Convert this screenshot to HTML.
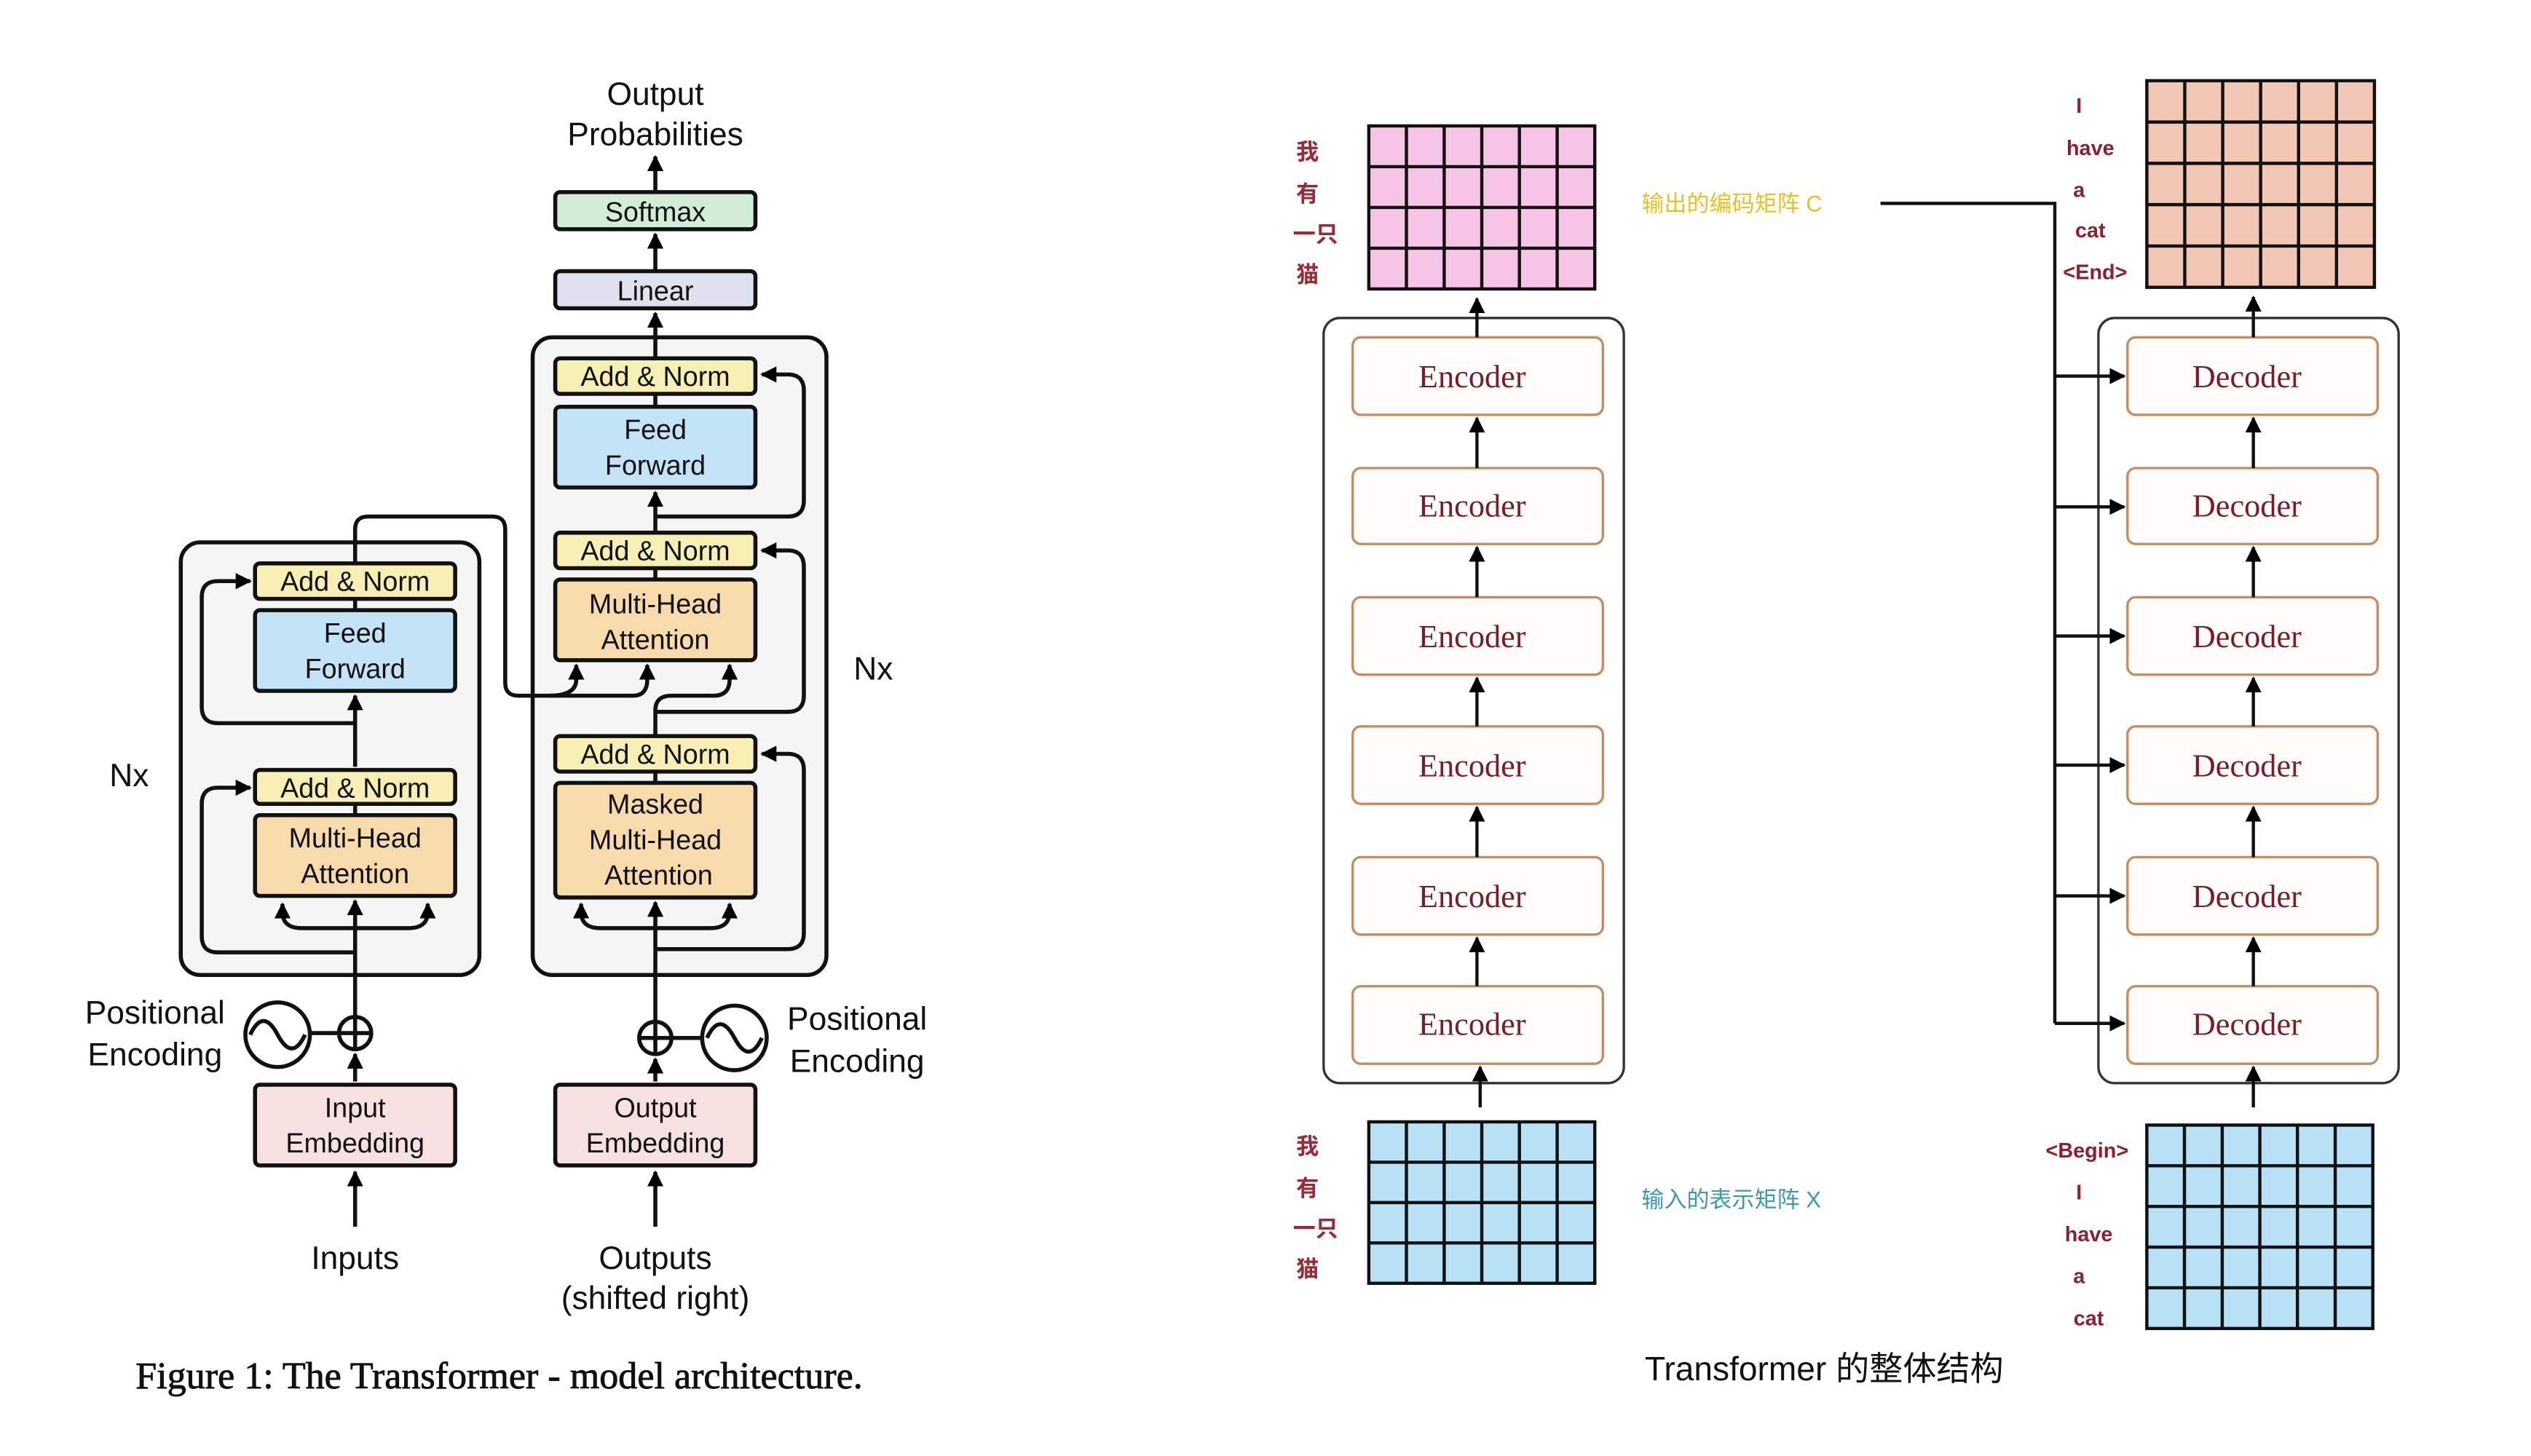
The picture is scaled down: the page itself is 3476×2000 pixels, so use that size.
<!DOCTYPE html>
<html><head><meta charset="utf-8"><style>
html,body{margin:0;padding:0;background:#fff;}
svg{display:block;}
.s{font-family:"Liberation Sans","Noto Sans CJK SC",sans-serif;}
.r{font-family:"Liberation Serif","Noto Serif CJK SC",serif;}
</style></head><body>
<svg width="3476" height="2000" viewBox="0 0 1568 902" preserveAspectRatio="none" xmlns="http://www.w3.org/2000/svg">
<defs>
<marker id="a" viewBox="0 0 10 10" refX="9" refY="5" markerWidth="4" markerHeight="4" orient="auto-start-reverse" markerUnits="strokeWidth"><path d="M0,0 L10,5 L0,10 z" fill="#000"/></marker>
<marker id="b" viewBox="0 0 10 10" refX="9" refY="5" markerWidth="5" markerHeight="5" orient="auto-start-reverse" markerUnits="strokeWidth"><path d="M0,0 L10,5 L0,10 z" fill="#000"/></marker>
</defs>
<rect width="1568" height="902" fill="#fff"/>

<g class="s" font-size="20" text-anchor="middle" fill="#111">
<text x="406" y="65">Output</text>
<text x="406" y="90">Probabilities</text>
</g>
<g stroke="#111" stroke-width="2.5" fill="none">
<rect x="330" y="209" width="182" height="395" rx="12" fill="#f5f5f5"/>
<rect x="112" y="336" width="185" height="268" rx="12" fill="#f5f5f5"/>
</g>
<g stroke="#111" stroke-width="2.5" fill="none">
<line x1="406" y1="118" x2="406" y2="97" marker-end="url(#a)"/>
<line x1="406" y1="167" x2="406" y2="145" marker-end="url(#a)"/>
<line x1="406" y1="221" x2="406" y2="194" marker-end="url(#a)"/>
<line x1="406" y1="252" x2="406" y2="244"/>
<line x1="406" y1="329" x2="406" y2="305" marker-end="url(#a)"/>
<line x1="406" y1="359" x2="406" y2="352"/>
<line x1="406" y1="485" x2="406" y2="478"/>
<path d="M406,320 L488,320 Q498,320 498,310 L498,242 Q498,232 488,232 L472,232" marker-end="url(#a)"/>
<path d="M406,441 L488,441 Q498,441 498,431 L498,351 Q498,341 488,341 L472,341" marker-end="url(#a)"/>
<path d="M406,588 L488,588 Q498,588 498,578 L498,477 Q498,467 488,467 L472,467" marker-end="url(#a)"/>
<path d="M406,456 L406,440 Q406,431 416,431 L442,431 Q452,431 452,421 L452,412" marker-end="url(#a)"/>
<path d="M220,349 L220,328 Q220,320 228,320 L305,320 Q313,320 313,328 L313,423 Q313,431 321,431 L392,431 Q401,431 401,421 L401,412" marker-end="url(#a)"/>
<path d="M340,431 Q357,431 357,421 L357,412" marker-end="url(#a)"/>
<line x1="406" y1="633" x2="406" y2="559" marker-end="url(#a)"/>
<path d="M406,575 L372,575 Q360,575 360,565 L360,560" marker-end="url(#a)"/>
<path d="M406,575 L440,575 Q452,575 452,565 L452,560" marker-end="url(#a)"/>
<line x1="406" y1="670" x2="406" y2="656" marker-end="url(#a)"/>
<line x1="406" y1="760" x2="406" y2="726" marker-end="url(#a)"/>
<line x1="220" y1="475" x2="220" y2="431" marker-end="url(#a)"/>
<line x1="220" y1="505" x2="220" y2="498"/>
<line x1="220" y1="378" x2="220" y2="371"/>
<path d="M220,448 L135,448 Q125,448 125,438 L125,370 Q125,360 135,360 L155,360" marker-end="url(#a)"/>
<path d="M220,590 L135,590 Q125,590 125,580 L125,498 Q125,488 135,488 L155,488" marker-end="url(#a)"/>
<line x1="220" y1="630" x2="220" y2="558" marker-end="url(#a)"/>
<path d="M220,575 L187,575 Q175,575 175,565 L175,560" marker-end="url(#a)"/>
<path d="M220,575 L253,575 Q265,575 265,565 L265,560" marker-end="url(#a)"/>
<line x1="220" y1="670" x2="220" y2="653" marker-end="url(#a)"/>
<line x1="220" y1="760" x2="220" y2="726" marker-end="url(#a)"/>
<circle cx="220" cy="640" r="10" fill="#fff"/>
<line x1="210" y1="640" x2="230" y2="640"/><line x1="220" y1="630" x2="220" y2="650"/>
<circle cx="172" cy="641" r="20" fill="#fff"/>
<path d="M155,641 Q163,624 172,641 Q181,658 189,641"/>
<line x1="192" y1="640" x2="210" y2="640"/>
<circle cx="406" cy="643" r="10" fill="#fff"/>
<line x1="396" y1="643" x2="416" y2="643"/><line x1="406" y1="633" x2="406" y2="653"/>
<circle cx="455" cy="643" r="20" fill="#fff"/>
<path d="M438,643 Q446,626 455,643 Q464,660 472,643"/>
<line x1="416" y1="643" x2="435" y2="643"/>
</g>
<g stroke="#111" stroke-width="2.5">
<rect x="344" y="119" width="124" height="23" rx="3" fill="#d3ecd5"/>
<rect x="344" y="168" width="124" height="23" rx="3" fill="#e0e1ef"/>
<rect x="344" y="222" width="124" height="22" rx="3" fill="#f8efb5"/>
<rect x="344" y="252" width="124" height="50" rx="3" fill="#c3e3f6"/>
<rect x="344" y="330" width="124" height="22" rx="3" fill="#f8efb5"/>
<rect x="344" y="359" width="124" height="50" rx="3" fill="#f8dbaa"/>
<rect x="344" y="456" width="124" height="22" rx="3" fill="#f8efb5"/>
<rect x="344" y="485" width="124" height="71" rx="3" fill="#f8dbaa"/>
<rect x="344" y="672" width="124" height="50" rx="3" fill="#f6e0e0"/>
<rect x="158" y="349" width="124" height="22" rx="3" fill="#f8efb5"/>
<rect x="158" y="378" width="124" height="50" rx="3" fill="#c3e3f6"/>
<rect x="158" y="477" width="124" height="21" rx="3" fill="#f8efb5"/>
<rect x="158" y="505" width="124" height="50" rx="3" fill="#f8dbaa"/>
<rect x="158" y="672" width="124" height="50" rx="3" fill="#f6e0e0"/>
</g>
<g class="s" font-size="17" text-anchor="middle" fill="#111">
<text x="406" y="137">Softmax</text>
<text x="406" y="186">Linear</text>
<text x="406" y="239">Add &amp; Norm</text>
<text x="406" y="272">Feed</text><text x="406" y="294">Forward</text>
<text x="406" y="347">Add &amp; Norm</text>
<text x="406" y="380">Multi-Head</text><text x="406" y="402">Attention</text>
<text x="406" y="473">Add &amp; Norm</text>
<text x="406" y="504">Masked</text><text x="406" y="526">Multi-Head</text><text x="408" y="548">Attention</text>
<text x="406" y="692">Output</text><text x="406" y="714">Embedding</text>
<text x="220" y="366">Add &amp; Norm</text>
<text x="220" y="398">Feed</text><text x="220" y="420">Forward</text>
<text x="220" y="494">Add &amp; Norm</text>
<text x="220" y="525">Multi-Head</text><text x="220" y="547">Attention</text>
<text x="220" y="692">Input</text><text x="220" y="714">Embedding</text>
</g>
<g class="s" font-size="20" fill="#111">
<text x="96" y="634" text-anchor="middle">Positional</text>
<text x="96" y="660" text-anchor="middle">Encoding</text>
<text x="531" y="638" text-anchor="middle">Positional</text>
<text x="531" y="664" text-anchor="middle">Encoding</text>
<text x="220" y="786" text-anchor="middle">Inputs</text>
<text x="406" y="786" text-anchor="middle">Outputs</text>
<text x="406" y="811" text-anchor="middle">(shifted right)</text>
<text x="80" y="487" text-anchor="middle">Nx</text>
<text x="541" y="421" text-anchor="middle">Nx</text>
</g>
<text class="r" x="84" y="860" font-size="23.5" fill="#111" stroke="#111" stroke-width="0.4">Figure 1: The Transformer - model architecture.</text>

<g stroke="#111" stroke-width="2">
<rect x="848" y="78" width="140" height="101" fill="#f5c4e6"/>
<path d="M871.3,78V179M894.7,78V179M918,78V179M941.3,78V179M964.7,78V179M848,103.25H988M848,128.5H988M848,153.75H988" fill="none"/>
<rect x="848" y="695" width="140" height="100" fill="#b9e1f6"/>
<path d="M871.3,695V795M894.7,695V795M918,695V795M941.3,695V795M964.7,695V795M848,720H988M848,745H988M848,770H988" fill="none"/>
<rect x="1330" y="50" width="141" height="128" fill="#f1c6b2"/>
<path d="M1353.5,50V178M1377,50V178M1400.5,50V178M1424,50V178M1447.5,50V178M1330,75.6H1471M1330,101.2H1471M1330,126.8H1471M1330,152.4H1471" fill="none"/>
<rect x="1330" y="697" width="140" height="126" fill="#b9e1f6"/>
<path d="M1353.3,697V823M1376.7,697V823M1400,697V823M1423.3,697V823M1446.7,697V823M1330,722.2H1470M1330,747.4H1470M1330,772.6H1470M1330,797.8H1470" fill="none"/>
</g>
<g fill="none" stroke="#333" stroke-width="1.5">
<rect x="820" y="197" width="186" height="474" rx="10"/>
<rect x="1300" y="197" width="186" height="474" rx="10"/>
</g>
<g fill="#fffdfa" stroke="#c98a5e" stroke-width="1.5">
<rect x="838" y="209" width="155" height="48" rx="5"/>
<rect x="838" y="290" width="155" height="47" rx="5"/>
<rect x="838" y="370" width="155" height="48" rx="5"/>
<rect x="838" y="450" width="155" height="48" rx="5"/>
<rect x="838" y="531" width="155" height="48" rx="5"/>
<rect x="838" y="611" width="155" height="48" rx="5"/>
<rect x="1318" y="209" width="155" height="48" rx="5"/>
<rect x="1318" y="290" width="155" height="47" rx="5"/>
<rect x="1318" y="370" width="155" height="48" rx="5"/>
<rect x="1318" y="450" width="155" height="48" rx="5"/>
<rect x="1318" y="531" width="155" height="48" rx="5"/>
<rect x="1318" y="611" width="155" height="48" rx="5"/>
</g>
<g class="r" font-size="20" fill="#7a1a2a" text-anchor="middle">
<text x="912" y="240">Encoder</text><text x="912" y="320">Encoder</text><text x="912" y="401">Encoder</text>
<text x="912" y="481">Encoder</text><text x="912" y="562">Encoder</text><text x="912" y="641">Encoder</text>
<text x="1392" y="240">Decoder</text><text x="1392" y="320">Decoder</text><text x="1392" y="401">Decoder</text>
<text x="1392" y="481">Decoder</text><text x="1392" y="562">Decoder</text><text x="1392" y="641">Decoder</text>
</g>
<g stroke="#111" stroke-width="2" fill="none">
<line x1="915" y1="209" x2="915" y2="185" marker-end="url(#b)"/>
<line x1="915" y1="290" x2="915" y2="259" marker-end="url(#b)"/>
<line x1="915" y1="370" x2="915" y2="339" marker-end="url(#b)"/>
<line x1="915" y1="450" x2="915" y2="420" marker-end="url(#b)"/>
<line x1="915" y1="531" x2="915" y2="500" marker-end="url(#b)"/>
<line x1="915" y1="611" x2="915" y2="581" marker-end="url(#b)"/>
<line x1="917" y1="686" x2="917" y2="661" marker-end="url(#b)"/>
<line x1="1396" y1="209" x2="1396" y2="184" marker-end="url(#b)"/>
<line x1="1396" y1="290" x2="1396" y2="259" marker-end="url(#b)"/>
<line x1="1396" y1="370" x2="1396" y2="339" marker-end="url(#b)"/>
<line x1="1396" y1="450" x2="1396" y2="420" marker-end="url(#b)"/>
<line x1="1396" y1="531" x2="1396" y2="500" marker-end="url(#b)"/>
<line x1="1396" y1="611" x2="1396" y2="581" marker-end="url(#b)"/>
<line x1="1396" y1="686" x2="1396" y2="661" marker-end="url(#b)"/>
<path d="M1165,126 L1273,126 L1273,634"/>
<line x1="1273" y1="233" x2="1316" y2="233" marker-end="url(#b)"/>
<line x1="1273" y1="314" x2="1316" y2="314" marker-end="url(#b)"/>
<line x1="1273" y1="394" x2="1316" y2="394" marker-end="url(#b)"/>
<line x1="1273" y1="474" x2="1316" y2="474" marker-end="url(#b)"/>
<line x1="1273" y1="555" x2="1316" y2="555" marker-end="url(#b)"/>
<line x1="1273" y1="634" x2="1316" y2="634" marker-end="url(#b)"/>
</g>
<g class="s" font-size="14" fill="#9a2a35" text-anchor="middle" font-weight="bold">
<text x="810" y="99">我</text><text x="810" y="125">有</text><text x="815" y="150">一只</text><text x="810" y="175">猫</text>
<text x="810" y="715">我</text><text x="810" y="741">有</text><text x="815" y="766">一只</text><text x="810" y="791">猫</text>
</g>
<g class="s" font-size="13" fill="#8a2030" text-anchor="middle" font-weight="bold">
<text x="1288" y="70">I</text><text x="1295" y="96">have</text><text x="1288" y="122">a</text><text x="1295" y="147">cat</text><text x="1298" y="173">&lt;End&gt;</text>
<text x="1293" y="717">&lt;Begin&gt;</text><text x="1288" y="743">I</text><text x="1294" y="769">have</text><text x="1288" y="795">a</text><text x="1294" y="821">cat</text>
</g>
<text class="s" x="1017" y="131" font-size="14" fill="#e8c020">输出的编码矩阵 C</text>
<text class="s" x="1017" y="748" font-size="14" fill="#3a98b0">输入的表示矩阵 X</text>
<text class="s" x="1019" y="855" font-size="20.8" fill="#111">Transformer 的整体结构</text>
</svg>
</body></html>
